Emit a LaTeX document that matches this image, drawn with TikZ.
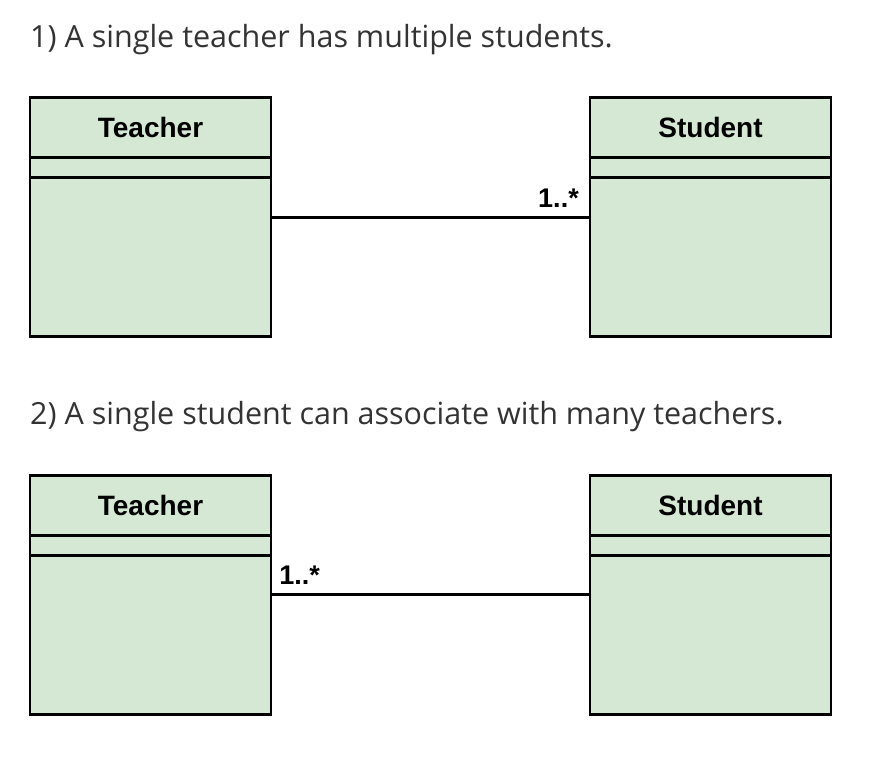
\documentclass[tikz,border=0pt]{standalone}
\usepackage{fontspec}
\setmainfont{Open Sans}
\newfontfamily\umlfont{Liberation Sans}
\usetikzlibrary{positioning,calc}
\definecolor{classfill}{HTML}{D5E8D4}
\definecolor{captiongray}{HTML}{333333}
\tikzset{
  classpart/.style={
    rectangle,
    draw=black,
    fill=classfill,
    line width=2.5pt,
    minimum width=241pt,
    inner sep=0pt,
    outer sep=0pt
  },
  classhead/.style={classpart, minimum height=60pt, font=\umlfont\bfseries\fontsize{28}{32}\selectfont},
  classattr/.style={classpart, minimum height=20pt},
  classops/.style={classpart, minimum height=159pt},
}
\tikzset{
  caption/.style={
    anchor=base west,
    inner sep=0pt,
    text=captiongray,
    font=\fontsize{30.5}{36}\selectfont
  },
  mult/.style={inner sep=2pt, font=\umlfont\bfseries\fontsize{27}{30}\selectfont},
  assoc/.style={line width=2.5pt},
}
\begin{document}
\begin{tikzpicture}[x=1pt, y=-1pt]
    \path[use as bounding box, fill=white] (0,0) rectangle (872,760);

    %% First case
    \node[caption] (cap1) at (30,48) {1) A single teacher has multiple students.};
    \node[classhead] (t1head) at (150.5,127.5) {Teacher};
    \node[classattr, below=0pt of t1head] (t1attr) {};
    \node[classops, below=0pt of t1attr] (t1ops) {};
    \node[classhead] (s1head) at (710.5,127.5) {Student};
    \node[classattr, below=0pt of s1head] (s1attr) {};
    \node[classops, below=0pt of s1attr] (s1ops) {};

    \coordinate (a1) at ($(t1ops.north east)+(0,40)$);
    \coordinate (b1) at (a1 -| s1ops.west);
    \draw[assoc] (a1) -- (b1) node[mult, pos=1, anchor=south east, xshift=-8pt, yshift=7pt] (m1) {1..*};

    %% Second case
    \node[caption] (cap2) at (30,424) {2) A single student can associate with many teachers.};
    \node[classhead] (t2head) at (150.5,505.5) {Teacher};
    \node[classattr, below=0pt of t2head] (t2attr) {};
    \node[classops, below=0pt of t2attr] (t2ops) {};
    \node[classhead] (s2head) at (710.5,505.5) {Student};
    \node[classattr, below=0pt of s2head] (s2attr) {};
    \node[classops, below=0pt of s2attr] (s2ops) {};

    \coordinate (a2) at ($(t2ops.north east)+(0,39)$);
    \coordinate (b2) at (a2 -| s2ops.west);
    \draw[assoc] (a2) -- (b2) node[mult, pos=0, anchor=south west, xshift=5pt, yshift=7pt] (m2) {1..*};
\end{tikzpicture}
\end{document}
